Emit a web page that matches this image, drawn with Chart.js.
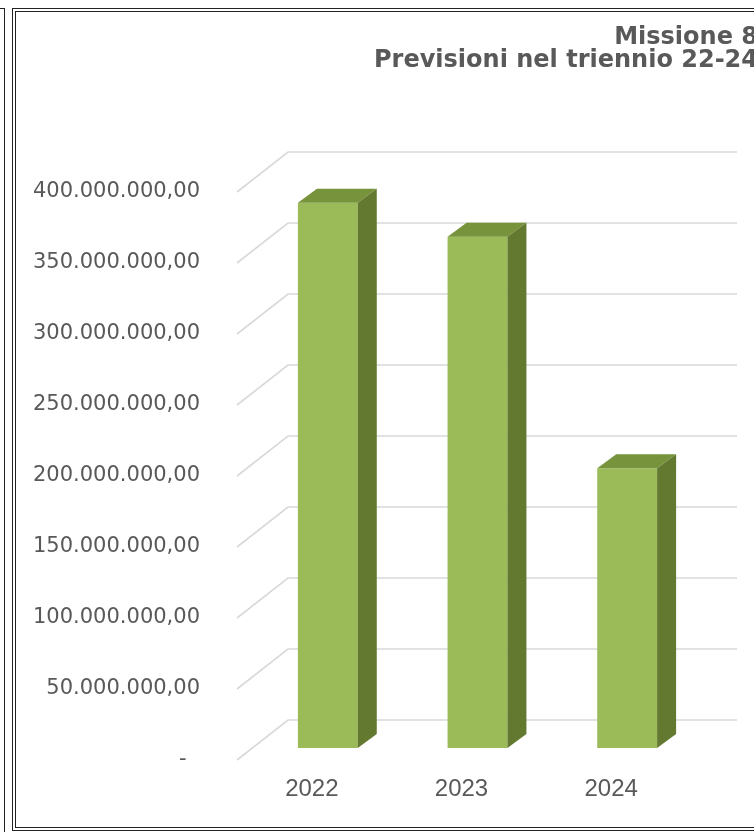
<!DOCTYPE html>
<html>
<head>
<meta charset="utf-8">
<script src="https://cdn.jsdelivr.net/npm/chart.js@4.4.0/dist/chart.umd.min.js"></script>
<style>
  html, body { margin: 0; padding: 0; background: #fff; }
  #wrap { position: relative; width: 754px; height: 832px; overflow: hidden; }
  #chart { position: absolute; left: 0; top: 0; }
  .ln { position: absolute; background: #222; pointer-events: none; }
</style>
</head>
<body>
<div id="wrap">
  <canvas id="chart" width="754" height="832"></canvas>
  <!-- left strip of the page -->
  <div class="ln" style="left:0;top:8px;width:5px;height:1px"></div>
  <div class="ln" style="left:4px;top:8px;width:1px;height:824px"></div>
  <!-- double frame round the chart -->
  <div class="ln" style="left:12px;top:8px;width:742px;height:1px"></div>
  <div class="ln" style="left:12px;top:8px;width:1px;height:822px"></div>
  <div class="ln" style="left:15px;top:11px;width:739px;height:1px"></div>
  <div class="ln" style="left:15px;top:11px;width:1px;height:816px"></div>
  <div class="ln" style="left:15px;top:827px;width:739px;height:1px"></div>
  <div class="ln" style="left:12px;top:830px;width:742px;height:1px"></div>
</div>
<script>
/* ---------- Data ---------- */
const years = ['2022', '2023', '2024'];
const previsioni = [384000000, 360000000, 197000000];
const titleLines = ['Missione 8', 'Previsioni nel triennio 22-24'];
const yMax = 400000000;
const yStep = 50000000;

/* ---------- Look ---------- */
const TEXT = '#595959';
const GRID = '#d9d9d9';
const FRONT = '#9bbb59', TOP = '#77933c', SIDE = '#62792f';
// 3D offsets relative to the plane the bar fronts stand on
const WALL = { dx: 35, dy: -28 };   // back wall
const FLOOR = { dx: -16, dy: 12 };  // front edge of the floor
const BAR = { dx: 19, dy: -14 };    // depth of each bar

function fmtIt(v) {
  if (v === 0) return '-  ';
  const s = Math.round(v).toString().replace(/\B(?=(\d{3})+(?!\d))/g, '.');
  return s + ',00';
}

const wallGrid = {
  id: 'wallGrid',
  beforeDatasetsDraw(chart) {
    const { ctx, chartArea: a, scales: { y } } = chart;
    ctx.save();
    ctx.strokeStyle = GRID;
    ctx.lineWidth = 1.6;
    y.ticks.forEach(t => {
      const py = y.getPixelForValue(t.value);
      ctx.beginPath();
      ctx.moveTo(a.left + FLOOR.dx, py + FLOOR.dy);
      ctx.lineTo(a.left + WALL.dx, py + WALL.dy);
      ctx.lineTo(a.right + WALL.dx, py + WALL.dy);
      ctx.stroke();
    });
    ctx.restore();
  }
};

const bars3d = {
  id: 'bars3d',
  afterDatasetsDraw(chart) {
    const { ctx } = chart;
    const meta = chart.getDatasetMeta(0);
    ctx.save();
    meta.data.forEach(bar => {
      const l = bar.x - bar.width / 2, r = bar.x + bar.width / 2;
      const top = bar.y, base = bar.base;
      ctx.fillStyle = TOP;
      ctx.beginPath();
      ctx.moveTo(l, top);
      ctx.lineTo(r, top);
      ctx.lineTo(r + BAR.dx, top + BAR.dy);
      ctx.lineTo(l + BAR.dx, top + BAR.dy);
      ctx.closePath();
      ctx.fill();
      ctx.fillStyle = SIDE;
      ctx.beginPath();
      ctx.moveTo(r, top);
      ctx.lineTo(r + BAR.dx, top + BAR.dy);
      ctx.lineTo(r + BAR.dx, base + BAR.dy);
      ctx.lineTo(r, base);
      ctx.closePath();
      ctx.fill();
    });
    ctx.restore();
  }
};

const titleRight = {
  id: 'titleRight',
  afterDraw(chart) {
    const { ctx } = chart;
    ctx.save();
    ctx.fillStyle = TEXT;
    ctx.font = 'bold 24px "DejaVu Sans"';
    ctx.textAlign = 'right';
    ctx.textBaseline = 'alphabetic';
    ctx.fillText(titleLines[0], 758, 44);
    ctx.fillText(titleLines[1], 758, 67);
    ctx.restore();
  }
};

new Chart(document.getElementById('chart'), {
  type: 'bar',
  data: {
    labels: years,
    datasets: [{
      data: previsioni,
      backgroundColor: FRONT,
      borderWidth: 0,
      categoryPercentage: 1,
      barPercentage: 0.4
    }]
  },
  options: {
    responsive: false,
    animation: false,
    layout: { padding: { left: 0, right: 52, top: 180, bottom: 0 } },
    plugins: { legend: { display: false }, tooltip: { enabled: false }, title: { display: false } },
    scales: {
      x: {
        grid: { display: false },
        border: { display: false },
        ticks: { color: TEXT, font: { family: '"Liberation Sans"', size: 24 }, padding: 19, labelOffset: -16 },
        afterFit: s => { s.height = 84; }
      },
      y: {
        min: 0,
        max: yMax,
        grid: { display: false },
        border: { display: false },
        ticks: {
          stepSize: yStep,
          color: TEXT,
          font: { family: '"DejaVu Sans"', size: 21 },
          padding: 45,
          labelOffset: 12,
          callback: v => fmtIt(v)
        },
        afterFit: s => { s.width = 253; }
      }
    }
  },
  plugins: [wallGrid, bars3d, titleRight]
});
</script>
</body>
</html>
